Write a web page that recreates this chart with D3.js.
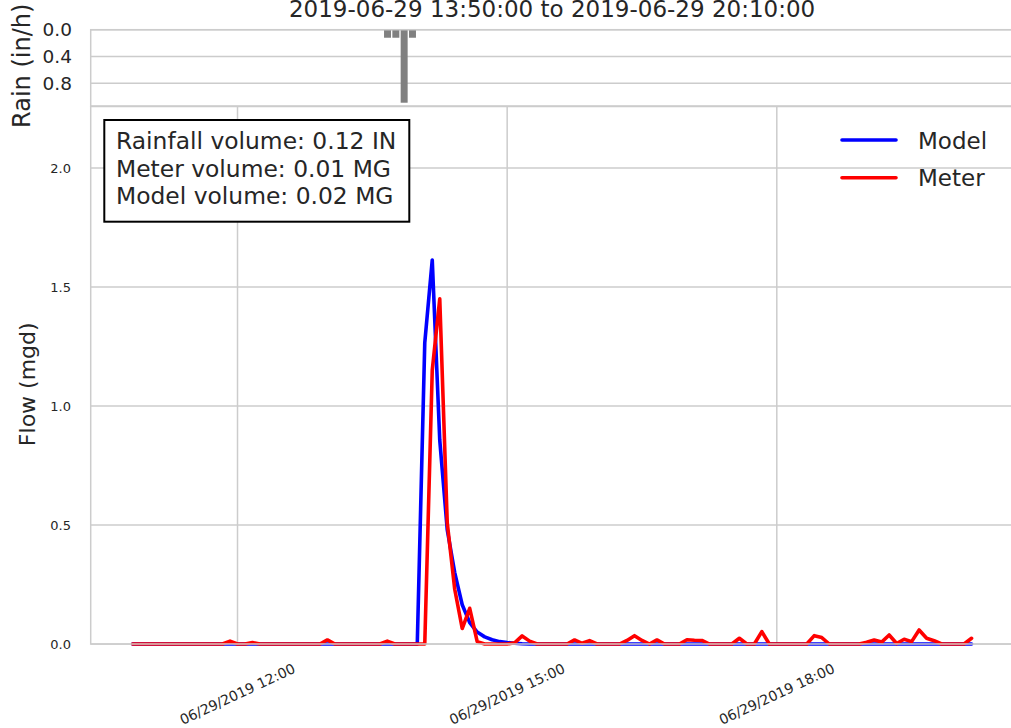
<!DOCTYPE html>
<html><head><meta charset="utf-8">
<script src="https://cdn.jsdelivr.net/npm/d3@7"></script>
<style>
html,body{margin:0;padding:0;background:#fff;}
svg text{font-family:"DejaVu Sans",sans-serif;fill:#262626;}
</style></head>
<body><svg id="chart" width="1011" height="728"></svg>
<script>
// ---------------- data ----------------
const titleText = "2019-06-29 13:50:00 to 2019-06-29 20:10:00";
const flowStart = "2019-06-29 10:50";   // first sample, 5-minute steps
const flowStepMin = 5;
// Model flow (mgd), 10:50 .. 20:10
const modelFlow = [
 0,0,0,0,0,0,0,0,0,0, 0,0,0,0,0,0,0,0,0,0,
 0,0,0,0,0,0,0,0,0,0, 0,0,0,0,0,0,0,0,0,1.265,
 1.613,0.857,0.48,0.30,0.165,0.09,0.05,0.03,0.018,0.01,
 0.006,0.003,0.001,0,0,0,0,0,0,0, 0,0,0,0,0,0,0,0,0,0,
 0,0,0,0,0,0,0,0,0,0, 0,0,0,0,0,0,0,0,0,0,
 0,0,0,0,0,0,0,0,0,0, 0,0,0,0,0,0,0,0,0,0,
 0,0,0
];
// Meter flow (mgd), 10:50 .. 20:10
const meterFlow = [
 0,0,0,0,0,0,0,0,0,0, 0,0,0,0.012,0,0,0.006,0,0,0,
 0,0,0,0,0,0,0.017,0,0,0, 0,0,0,0,0.012,0,0,0,0,0,
 1.15,1.45,0.51,0.23,0.065,0.15,0.01,0,0,0,
 0,0.005,0.034,0.012,0,0,0,0,0,0.017, 0.003,0.014,0,0,0,0,0.015,0.035,0.015,0,
 0.017,0,0,0,0.018,0.016,0.015,0,0,0, 0,0.024,0,0,0.052,0,0,0,0,0,
 0,0.035,0.027,0,0,0,0,0,0.007,0.017, 0.008,0.038,0.002,0.02,0.01,0.059,0.024,0.014,0,0,
 0,0,0.024
];
// Rain (in/h): bar categories every 5 minutes, only non-zero bars listed
const rainStart = "2019-06-29 10:50";
const rainBarCount = 111;
const rainTimes = ["2019-06-29 13:45","2019-06-29 13:50","2019-06-29 13:55","2019-06-29 14:00"];
const rainValues = [0.12, 0.12, 1.09, 0.12];
const xTicks = ["2019-06-29 12:00","2019-06-29 15:00","2019-06-29 18:00"];
const flowTicks = [0.0, 0.5, 1.0, 1.5, 2.0];
const rainTicks = [0.0, 0.4, 0.8];
const boxLines = ["Rainfall volume: 0.12 IN","Meter volume: 0.01 MG","Model volume: 0.02 MG"];
const seriesNames = ["Model","Meter"];
const seriesColors = ["#0000ff","#ff0000"];

// ---------------- layout ----------------
const parse = d3.timeParse("%Y-%m-%d %H:%M");
const fmt = d3.timeFormat("%m/%d/%Y %H:%M");
const L = 90.7, R = 1013.5;
const flowTop = 106.5, flowBot = 644;
const rainTop = 29.7, rainBot = 106;
const gridCol = "#cccccc";

const t0 = parse(flowStart);
const times = modelFlow.map((_, i) => d3.timeMinute.offset(t0, i * flowStepMin));
const tEnd = times[times.length - 1];
const margin = (tEnd - t0) * 0.05;
const x = d3.scaleTime().domain([new Date(+t0 - margin), new Date(+tEnd + margin)]).range([L, R]);
const y = d3.scaleLinear().domain([0, 2.258]).range([flowBot, flowTop]);
const yr = d3.scaleLinear().domain([0, 1.139]).range([rainTop, rainBot]);
const rs = parse(rainStart);
const xr = d3.scaleBand().domain(d3.range(rainBarCount)).range([L + 1.7, R + 1.7]).paddingInner(0.16).paddingOuter(0.08);

const svg = d3.select("#chart");

// ---- rain panel ----
const gR = svg.append("g");
gR.selectAll("line.hg").data(rainTicks).enter().append("line")
  .attr("x1", L).attr("x2", R).attr("y1", d => yr(d)).attr("y2", d => yr(d))
  .attr("stroke", gridCol).attr("stroke-width", 1.5);
gR.selectAll("rect.rain").data(rainTimes.map((t, i) => ({t: parse(t), v: rainValues[i]}))).enter().append("rect")
  .attr("x", d => xr(Math.round((d.t - rs) / 300000)))
  .attr("width", xr.bandwidth())
  .attr("y", yr(0))
  .attr("height", d => yr(d.v) - yr(0))
  .attr("fill", "#808080");
gR.append("rect").attr("x", L).attr("y", rainTop).attr("width", R - L).attr("height", rainBot - rainTop)
  .attr("fill", "none").attr("stroke", gridCol).attr("stroke-width", 1.5);
gR.selectAll("text.rt").data(rainTicks).enter().append("text")
  .attr("x", 72).attr("y", d => yr(d)).attr("dy", "0.36em").attr("text-anchor", "end")
  .style("font-size", "18.5px").text(d => d.toFixed(1));
svg.append("text").attr("transform", `translate(29.5,${(rainTop + rainBot) / 2 - 2}) rotate(-90)`)
  .attr("text-anchor", "middle").style("font-size", "24px").text("Rain (in/h)");
svg.append("text").attr("x", (L + R) / 2).attr("y", 17).attr("text-anchor", "middle")
  .style("font-size", "23px").text(titleText);

// ---- flow panel ----
const gF = svg.append("g");
gF.selectAll("line.hg").data(flowTicks).enter().append("line")
  .attr("x1", L).attr("x2", R).attr("y1", d => y(d)).attr("y2", d => y(d))
  .attr("stroke", gridCol).attr("stroke-width", 1.5);
gF.selectAll("line.vg").data(xTicks.map(parse)).enter().append("line")
  .attr("x1", d => x(d)).attr("x2", d => x(d)).attr("y1", flowTop).attr("y2", flowBot)
  .attr("stroke", gridCol).attr("stroke-width", 1.5);

const line = d3.line().x((d, i) => x(times[i])).y(d => y(d));
[modelFlow, meterFlow].forEach((s, k) => {
  gF.append("path").attr("d", line(s)).attr("fill", "none")
    .attr("stroke", seriesColors[k]).attr("stroke-width", 3.6)
    .attr("stroke-linejoin", "round").attr("stroke-linecap", "round");
});
gF.append("rect").attr("x", L).attr("y", flowTop).attr("width", R - L).attr("height", flowBot - flowTop)
  .attr("fill", "none").attr("stroke", gridCol).attr("stroke-width", 1.5);

gF.selectAll("text.ft").data(flowTicks).enter().append("text")
  .attr("x", 71).attr("y", d => y(d)).attr("dy", "0.36em").attr("text-anchor", "end")
  .style("font-size", "13px").text(d => d.toFixed(1));
gF.selectAll("text.xt").data(xTicks.map(parse)).enter().append("text")
  .attr("transform", d => `translate(${x(d)},694) rotate(-25)`)
  .attr("text-anchor", "middle").attr("dy", "0.35em")
  .style("font-size", "14px").text(d => fmt(d));
svg.append("text").attr("transform", `translate(35,${(flowTop + flowBot) / 2 + 9}) rotate(-90)`)
  .attr("text-anchor", "middle").style("font-size", "22px").text("Flow (mgd)");

// text box
const box = svg.append("g");
box.append("rect").attr("x", 104.3).attr("y", 120).attr("width", 305).attr("height", 101.7)
  .attr("fill", "#fff").attr("stroke", "#000").attr("stroke-width", 2);
box.selectAll("text").data(boxLines).enter().append("text")
  .attr("x", 116).attr("y", (d, i) => 149.3 + i * 27.5)
  .style("font-size", "23.4px").text(d => d);

// legend
const lg = svg.append("g");
seriesNames.forEach((n, k) => {
  const yy = 140 + k * 37.7;
  lg.append("line").attr("x1", 842).attr("x2", 896).attr("y1", yy).attr("y2", yy)
    .attr("stroke", seriesColors[k]).attr("stroke-width", 3.6).attr("stroke-linecap", "round");
  lg.append("text").attr("x", 918).attr("y", yy + 8.5).style("font-size", "23px").text(n);
});
</script></body></html>
